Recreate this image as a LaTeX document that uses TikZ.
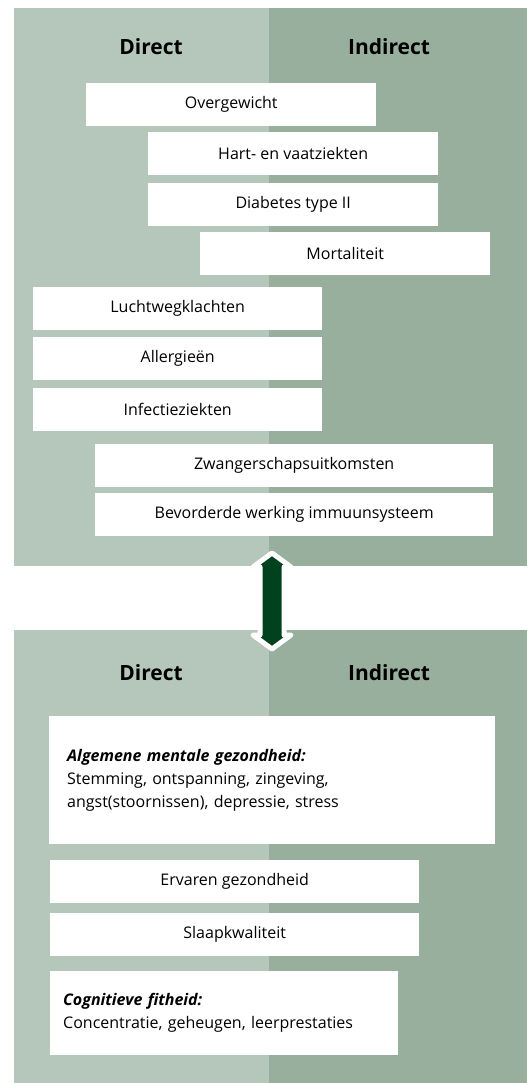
\documentclass[tikz,border=0pt]{standalone}
\usepackage{fontspec}
\setmainfont{Open Sans}
\usepackage{xcolor}
\usetikzlibrary{positioning}
\definecolor{directgreen}{RGB}{181,198,186}
\definecolor{indirectgreen}{RGB}{152,175,158}
\definecolor{arrowgreen}{RGB}{1,66,30}
\tikzstyle{item} = [rectangle, fill=white, inner sep=0pt, minimum height=43pt, text centered, anchor=north west, font=\fontsize{16}{23}\selectfont]

\begin{document}
\begin{tikzpicture}[x=1pt, y=-1pt, header/.style={font=\fontsize{21}{25}\selectfont\bfseries}, note/.style={item, align=left, anchor=north west}]
        \useasboundingbox[fill=white] (0,0) rectangle (527,1083);
        % panels
        \fill[directgreen] (14,8) rectangle (269,566);
        \fill[indirectgreen] (269,8) rectangle (527,566);
        \fill[directgreen] (14,630) rectangle (269,1083);
        \fill[indirectgreen] (269,630) rectangle (527,1083);

        % top panel
        \node[header] (direct1) at (151,47) {Direct};
        \node[header] (indirect1) at (389,47) {Indirect};
        \node[item, minimum width=290pt] (overgewicht) at (86,83) {Overgewicht};
        \node[item, minimum width=290pt] (hartvaat) at (148,132) {Hart- en vaatziekten};
        \node[item, minimum width=290pt, below=7pt of hartvaat] (diabetes) {Diabetes type II};
        \node[item, minimum width=290pt] (mortaliteit) at (200,232) {Mortaliteit};
        \node[item, minimum width=289pt] (luchtweg) at (33,287) {Luchtwegklachten};
        \node[item, minimum width=289pt, below=6pt of luchtweg] (allergie) {Allergieën};
        \node[item, minimum width=289pt, below=8pt of allergie] (infectie) {Infectieziekten};
        \node[item, minimum width=398pt] (zwanger) at (95,444) {Zwangerschapsuitkomsten};
        \node[item, minimum width=398pt, below=5pt of zwanger] (immuun) {Bevorderde werking immuunsysteem};

        % arrow between the panels
        \coordinate (arrtop) at (272,553);
        \coordinate (arrbot) at (272,649);
        \filldraw[fill=arrowgreen, draw=white, line width=5pt, line join=round]
            (arrtop) -- ++(19,14) -- ++(-7,0) -- ++(0,68) -- ++(7,0) -- (arrbot)
            -- ++(-19,-14) -- ++(7,0) -- ++(0,-68) -- ++(-7,0) -- cycle;

        % bottom panel
        \node[header] (direct2) at (151,673) {Direct};
        \node[header] (indirect2) at (389,673) {Indirect};
        \node[note, minimum width=446pt, minimum height=128pt, inner xsep=18pt, text width=410pt] (mentaal) at (49,716)
            {\textbf{\textit{Algemene mentale gezondheid:}}\\Stemming, ontspanning, zingeving,\\angst(stoornissen), depressie, stress};
        \node[item, minimum width=369pt] (ervaren) at (50,860) {Ervaren gezondheid};
        \node[item, minimum width=369pt, below=9pt of ervaren] (slaap) {Slaapkwaliteit};
        \node[note, minimum width=348pt, minimum height=84pt, inner xsep=13pt, text width=322pt] (cognitief) at (50,971)
            {\textbf{\textit{Cognitieve fitheid:}}\\Concentratie, geheugen, leerprestaties};
    \end{tikzpicture}
\end{document}
